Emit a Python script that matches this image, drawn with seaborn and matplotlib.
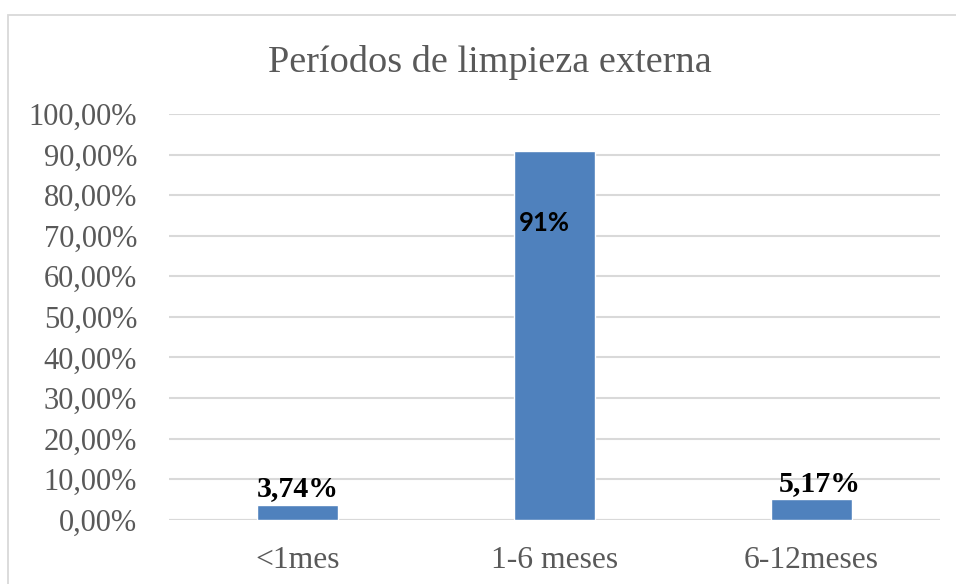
import matplotlib
matplotlib.use("Agg")
import matplotlib.pyplot as plt
import seaborn as sns
import pandas as pd
from matplotlib.patches import Rectangle

categories = ["<1mes", "1-6 meses", "6-12meses"]
values = [3.74, 91.0, 5.17]
value_labels = ["3,74%", "91%", "5,17%"]
y_ticks = [0, 10, 20, 30, 40, 50, 60, 70, 80, 90, 100]
y_tick_labels = ["0,00%", "10,00%", "20,00%", "30,00%", "40,00%", "50,00%",
                 "60,00%", "70,00%", "80,00%", "90,00%", "100,00%"]
title = "Períodos de limpieza externa"

df = pd.DataFrame({"periodo": categories, "pct": values})

sns.set_theme(style="white")
plt.rcParams["font.family"] = ["Liberation Serif", "DejaVu Serif"]

W, H = 956, 584
fig = plt.figure(figsize=(W / 100, H / 100), dpi=100)
fig.patch.set_facecolor("white")

# chart frame (opens off the right and bottom edges)
fig.patches.append(Rectangle((8 / W, -0.05), 1.1, 1 - 15 / H + 0.05,
                             transform=fig.transFigure, fill=False,
                             edgecolor="#D9D9D9", linewidth=1.3, zorder=0))

left, right = 169 / W, 940 / W
top_px, bot_px = 114, 519.7
ax = fig.add_axes([left, (H - bot_px) / H, right - left, (bot_px - top_px) / H])

sns.barplot(data=df, x="periodo", y="pct", color="#4F81BD", saturation=1,
            width=0.315, ax=ax, zorder=3)

ax.set_ylim(0, 100)
ax.set_xlim(-0.5, 2.5)
ax.set_yticks(y_ticks)
ax.set_yticklabels(y_tick_labels)
ax.yaxis.grid(True, color="#D9D9D9", linewidth=1.5, zorder=0)
ax.xaxis.grid(False)
for s in ax.spines.values():
    s.set_visible(False)
ax.axhline(0, color="#D9D9D9", linewidth=1.5, zorder=1)
ax.tick_params(axis="both", length=0, colors="#595959")
ax.tick_params(axis="y", pad=23, labelsize=22)
ax.tick_params(axis="x", pad=19, labelsize=22.8)
ax.set_xlabel("")
ax.set_ylabel("")

fig.text(490 / W, 1 - 72 / H, title, ha="center", va="baseline",
         fontsize=27.5, color="#595959")

# value labels
ax.annotate(value_labels[0], (0, values[0]), xytext=(0, 2), textcoords="offset points",
            ha="center", va="bottom", fontsize=21.5, fontweight="bold", color="black")
ax.annotate(value_labels[2], (2, values[2]), xytext=(6, 1), textcoords="offset points",
            ha="center", va="bottom", fontsize=21.5, fontweight="bold", color="black")
ax.annotate(value_labels[1], (1, values[1]), xytext=(-7, -52), textcoords="offset points",
            ha="center", va="center", fontsize=18.5, fontweight="bold", color="black",
            family=["Lato", "DejaVu Sans"])

fig.savefig("out.png", dpi=100)
